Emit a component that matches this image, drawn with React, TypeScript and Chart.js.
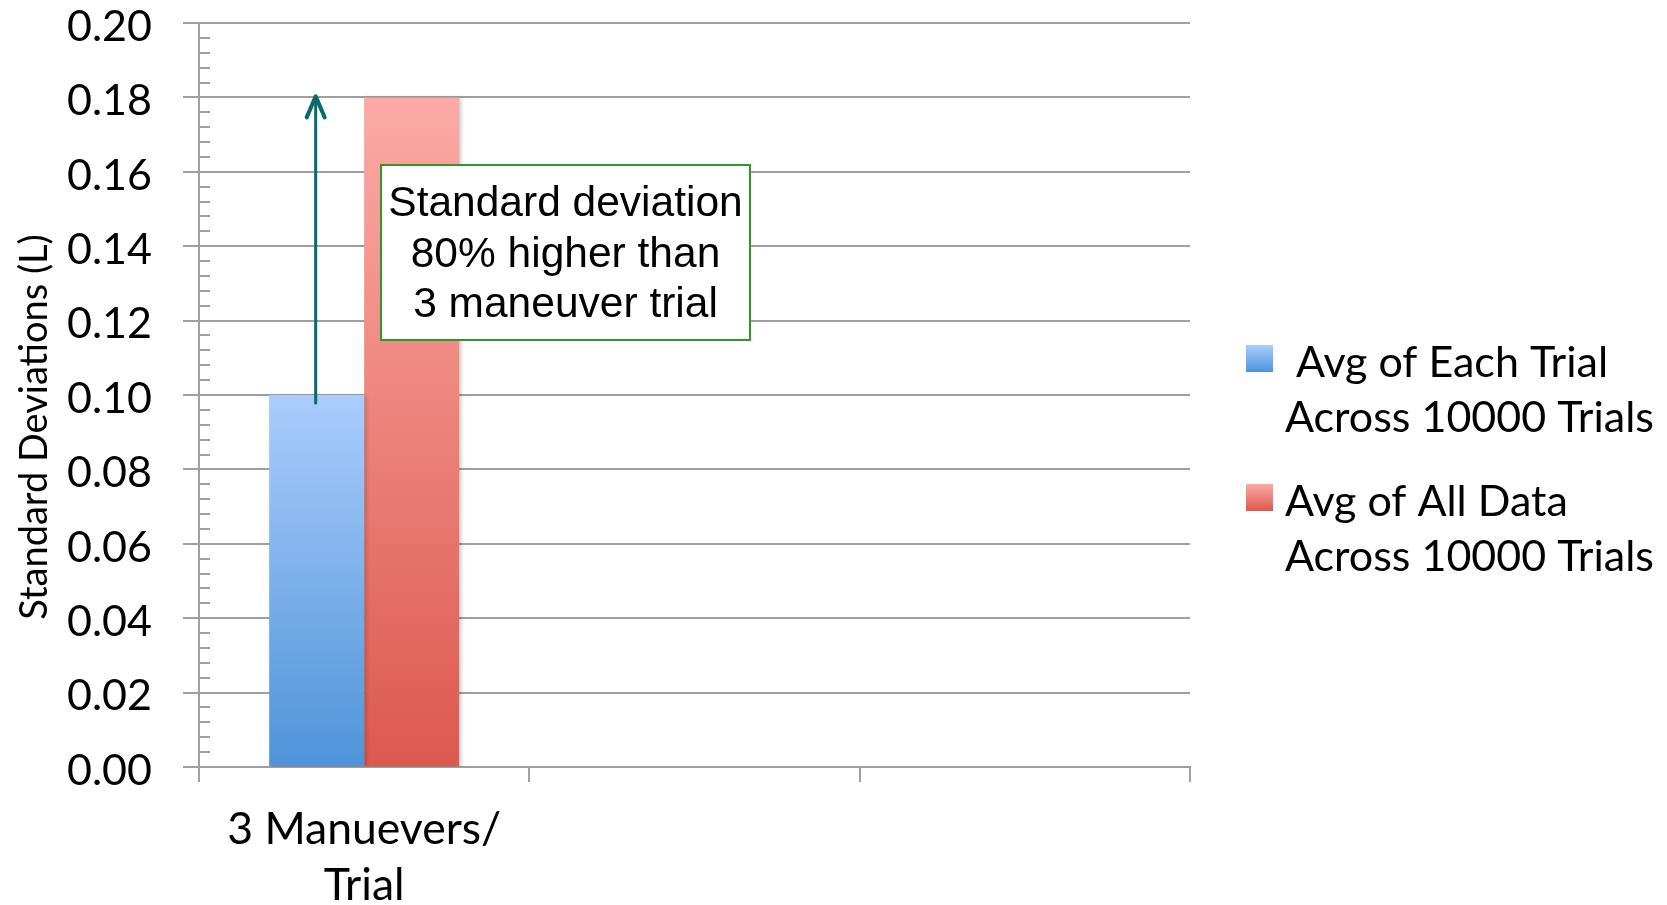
import React, { useEffect, useRef } from "react";
import { Chart, registerables } from "chart.js";

Chart.register(...registerables);

// ---- data ----
const categories: (string | string[])[] = [["3 Manuevers/", "Trial"], "", ""];
const avgEachTrial: (number | null)[] = [0.1, null, null];
const avgAllData: (number | null)[] = [0.18, null, null];
const seriesLabels: string[][] = [
  [" Avg of Each Trial", "Across 10000 Trials"],
  ["Avg of All Data", "Across 10000 Trials"],
];
const yMin = 0;
const yMax = 0.2;
const yStep = 0.02;
const yMinorStep = 0.004;
const yTitle = "Standard Deviations (L)";
const annotationLines = ["Standard deviation", "80% higher than", "3 maneuver trial"];

// ---- styles ----
const W = 1667;
const H = 905;
const GRID = "#9f9f9f";
const BLUE = ["#aacdfc", "#4f93d9"];
const RED = ["#fcaaa6", "#dc594e"];
const ARROW = "#0a6a69";
const BOX_BORDER = "#2b9a2b";
const FONT = "Lato";

function barGradient(colors: string[]) {
  return (ctx: any) => {
    const chart = ctx.chart;
    const y = chart.scales && chart.scales.y;
    if (!chart.chartArea || !y || ctx.raw == null) return colors[1];
    const top = y.getPixelForValue(ctx.raw);
    const bottom = y.getPixelForValue(0);
    const g = chart.ctx.createLinearGradient(0, top, 0, bottom);
    g.addColorStop(0, colors[0]);
    g.addColorStop(1, colors[1]);
    return g;
  };
}

const extrasPlugin = {
  id: "extras",
  beforeDatasetsDraw(chart: any) {
    const { ctx, scales } = chart;
    const y = scales.y;
    // minor ticks on the value axis
    ctx.save();
    ctx.strokeStyle = GRID;
    ctx.lineWidth = 2;
    const n = Math.round((yMax - yMin) / yMinorStep);
    for (let i = 1; i < n; i++) {
      if (i % Math.round(yStep / yMinorStep) === 0) continue;
      const py = Math.round(y.getPixelForValue(yMin + i * yMinorStep));
      ctx.beginPath();
      ctx.moveTo(y.right, py);
      ctx.lineTo(y.right + 11, py);
      ctx.stroke();
    }
    ctx.restore();
    // soft shadow for the bars
    ctx.save();
    ctx.shadowColor = "rgba(0,0,0,0.22)";
    ctx.shadowBlur = 4;
    ctx.shadowOffsetX = 2;
    ctx.shadowOffsetY = 1;
  },
  afterDatasetsDraw(chart: any) {
    const { ctx, scales } = chart;
    ctx.restore();
    const y = scales.y;
    // arrow from blue bar top to red bar height
    const bar = chart.getDatasetMeta(0).data[0];
    const ax = bar.x - 1;
    const y0 = y.getPixelForValue(avgEachTrial[0] as number) + 8;
    const y1 = y.getPixelForValue(avgAllData[0] as number) - 1;
    ctx.save();
    ctx.strokeStyle = ARROW;
    ctx.lineWidth = 3;
    ctx.lineCap = "round";
    ctx.lineJoin = "round";
    ctx.beginPath();
    ctx.moveTo(ax, y0);
    ctx.lineTo(ax, y1 + 2);
    ctx.stroke();
    ctx.lineWidth = 4;
    ctx.beginPath();
    ctx.moveTo(ax - 9, y1 + 21);
    ctx.lineTo(ax, y1);
    ctx.lineTo(ax + 9, y1 + 21);
    ctx.stroke();
    ctx.restore();

    // annotation box
    ctx.save();
    const bx = 381, by = 165, bw = 369, bh = 175;
    ctx.fillStyle = "#ffffff";
    ctx.fillRect(bx, by, bw, bh);
    ctx.strokeStyle = BOX_BORDER;
    ctx.lineWidth = 2;
    ctx.strokeRect(bx, by, bw, bh);
    ctx.fillStyle = "#000";
    ctx.font = '42.5px "Liberation Sans", Arial, sans-serif';
    ctx.textAlign = "center";
    ctx.textBaseline = "alphabetic";
    annotationLines.forEach((t, i) => {
      ctx.fillText(t, bx + bw / 2, 216 + i * 50.5);
    });
    ctx.restore();
  },
  afterDraw(chart: any) {
    const { ctx } = chart;
    // y axis title
    ctx.save();
    ctx.translate(35, 427);
    ctx.rotate(-Math.PI / 2);
    ctx.font = `38px ${FONT}`;
    ctx.fillStyle = "#000";
    ctx.textAlign = "center";
    ctx.textBaseline = "middle";
    ctx.fillText(yTitle, 0, 0);
    ctx.restore();

    // legend
    const entries = [
      { colors: BLUE, lines: seriesLabels[0], top: 345 },
      { colors: RED, lines: seriesLabels[1], top: 484 },
    ];
    ctx.save();
    ctx.font = `43px ${FONT}`;
    ctx.fillStyle = "#000";
    ctx.textAlign = "left";
    ctx.textBaseline = "middle";
    entries.forEach((e) => {
      const g = ctx.createLinearGradient(0, e.top, 0, e.top + 27);
      g.addColorStop(0, e.colors[0]);
      g.addColorStop(1, e.colors[1]);
      ctx.fillStyle = g;
      ctx.fillRect(1246, e.top, 27, 27);
      ctx.fillStyle = "#000";
      e.lines.forEach((t, i) => {
        ctx.fillText(t, 1285, e.top + 18 + i * 55);
      });
    });
    ctx.restore();
  },
};

export default function App() {
  const ref = useRef<HTMLCanvasElement | null>(null);
  useEffect(() => {
    if (!ref.current) return;
    Chart.defaults.font.family = FONT;
    const chart = new Chart(ref.current, {
      type: "bar",
      data: {
        labels: categories as any,
        datasets: [
          {
            label: seriesLabels[0].join(" "),
            data: avgEachTrial,
            backgroundColor: barGradient(BLUE),
            borderWidth: 0,
            categoryPercentage: 0.575,
            barPercentage: 1,
          },
          {
            label: seriesLabels[1].join(" "),
            data: avgAllData,
            backgroundColor: barGradient(RED),
            borderWidth: 0,
            categoryPercentage: 0.575,
            barPercentage: 1,
          },
        ],
      },
      options: {
        responsive: false,
        animation: false,
        devicePixelRatio: 1,
        layout: { padding: { top: 23, right: 477, bottom: 0, left: 0 } },
        plugins: {
          legend: { display: false },
          tooltip: { enabled: false },
          title: { display: false },
        },
        scales: {
          x: {
            grid: {
              offset: true,
              drawOnChartArea: false,
              tickLength: 15,
              color: GRID,
              lineWidth: 2,
            },
            border: { display: true, color: GRID, width: 2 },
            ticks: {
              color: "#000",
              font: { family: FONT, size: 44.5, lineHeight: 1.27 },
              padding: 19,
              maxRotation: 0,
              autoSkip: false,
            },
            afterFit: (s: any) => {
              s.height = H - 767;
              s.paddingLeft = 0;
              s.paddingRight = 0;
            },
          },
          y: {
            min: yMin,
            max: yMax,
            grid: { color: GRID, lineWidth: 2, tickLength: 16 },
            border: { display: true, color: GRID, width: 2 },
            ticks: {
              stepSize: yStep,
              color: "#000",
              font: { family: FONT, size: 43 },
              padding: 31,
              labelOffset: 4,
              callback: (v: any) => Number(v).toFixed(2),
            },
            afterFit: (s: any) => {
              s.width = 199;
              s.paddingTop = 0;
              s.paddingBottom = 0;
            },
          },
        },
      },
      plugins: [extrasPlugin],
    });
    return () => chart.destroy();
  }, []);
  return (
    <div style={{ position: "fixed", left: 0, top: 0, width: W, height: H, background: "#fff" }}>
      <canvas ref={ref} width={W} height={H} style={{ display: "block" }} />
    </div>
  );
}
